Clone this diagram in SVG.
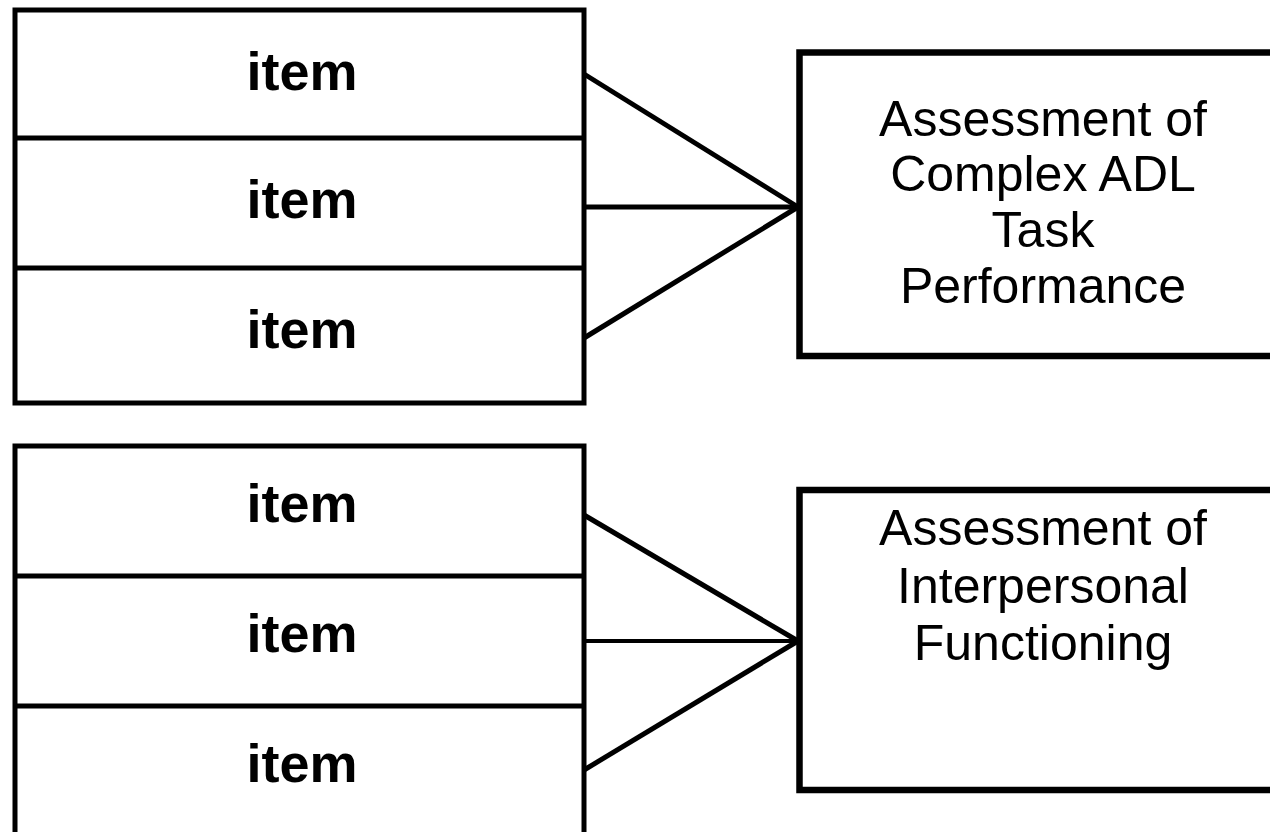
<svg xmlns="http://www.w3.org/2000/svg" width="1270" height="832" viewBox="0 0 1270 832">
  <style>
    .box { fill: #fff; stroke: #000; stroke-width: 5; }
    .big { fill: #fff; stroke: #000; stroke-width: 6.5; }
    .div { stroke: #000; stroke-width: 5; }
    .item { font-family: "Liberation Sans", Arial, sans-serif; font-weight: bold; font-size: 54px; text-anchor: middle; fill: #000; }
    .label { font-family: "Liberation Sans", Arial, sans-serif; font-size: 50px; text-anchor: middle; fill: #000; }
    .conn { stroke: #000; stroke-width: 5; fill: none; }
  </style>
  <rect width="1270" height="832" fill="#fff"/>

  <g id="items-top">
    <rect class="box" x="15" y="10" width="569" height="393"/>
    <line class="div" x1="15" y1="138" x2="584" y2="138"/>
    <line class="div" x1="15" y1="268" x2="584" y2="268"/>
    <text class="item" x="302" y="90">item</text>
    <text class="item" x="302" y="218">item</text>
    <text class="item" x="302" y="348">item</text>
  </g>

  <g id="adl-assessment">
    <rect class="big" x="799.5" y="52.5" width="480" height="303.5"/>
    <text class="label" x="1043" y="136">Assessment of</text>
    <text class="label" x="1043" y="191">Complex ADL</text>
    <text class="label" x="1043" y="247">Task</text>
    <text class="label" x="1043" y="303">Performance</text>
  </g>

  <g id="items-bottom">
    <rect class="box" x="15" y="446" width="569" height="400"/>
    <line class="div" x1="15" y1="576" x2="584" y2="576"/>
    <line class="div" x1="15" y1="706" x2="584" y2="706"/>
    <text class="item" x="302" y="522">item</text>
    <text class="item" x="302" y="652">item</text>
    <text class="item" x="302" y="782">item</text>
  </g>

  <g id="interpersonal-assessment">
    <rect class="big" x="799.5" y="490" width="480" height="300"/>
    <text class="label" x="1043" y="545">Assessment of</text>
    <text class="label" x="1043" y="603">Interpersonal</text>
    <text class="label" x="1043" y="660">Functioning</text>
  </g>

  <g id="connectors">
    <line class="conn" x1="584" y1="74" x2="798" y2="207"/>
    <line class="conn" x1="584" y1="207" x2="798" y2="207"/>
    <line class="conn" x1="584" y1="338" x2="798" y2="207"/>
    <line class="conn" x1="584" y1="515" x2="798" y2="641"/>
    <line class="conn" x1="584" y1="641" x2="798" y2="641" style="stroke-width:4"/>
    <line class="conn" x1="584" y1="770" x2="798" y2="641"/>
  </g>
</svg>
